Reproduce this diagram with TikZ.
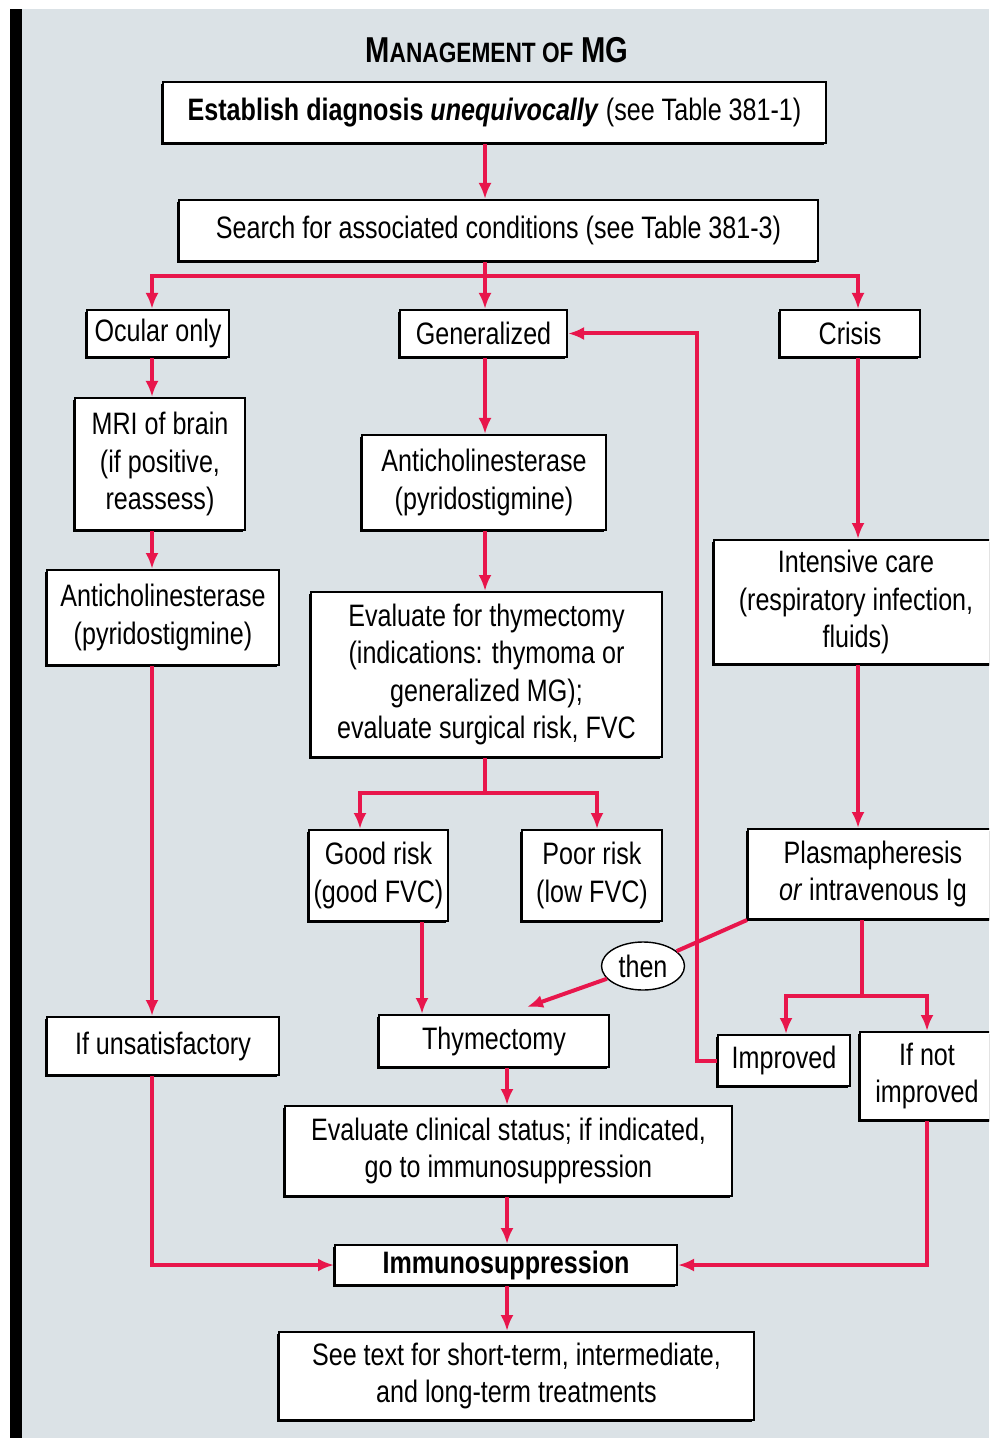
\documentclass[tikz,border=0pt]{standalone}
\usepackage{fontspec}
\setmainfont{Liberation Sans}[FakeStretch=0.81]
\usetikzlibrary{shapes.geometric, arrows.meta, shadows}
\definecolor{mgred}{RGB}{232,22,76}
\definecolor{mgback}{RGB}{219,226,230}
\tikzstyle{box} = [rectangle, draw=black, line width=1pt, fill=white, align=center, inner sep=2pt, drop shadow={shadow xshift=-0.8pt, shadow yshift=-0.8pt, fill=black, opacity=1}]
\tikzstyle{oval} = [ellipse, draw=black, line width=0.7pt, fill=white, inner sep=0pt]
\tikzstyle{link} = [draw=mgred, line width=2pt]

\begin{document}
\begin{tikzpicture}[x=0.5pt, y=-0.5pt, >={Latex[length=8pt,width=6.5pt]}, font=\fontsize{15.5}{18.6}\selectfont]
    % frame
    \clip (0,0) rectangle (989,1438);
    \fill[white] (0,0) rectangle (989,1438);
    \fill[black] (10,9) rectangle (22,1438);
    \fill[mgback] (22,9) rectangle (989,1438);

    \node at (497,50) (title) {\bfseries\fontsize{18}{21}\selectfont M{\fontsize{14}{17}\selectfont ANAGEMENT OF} MG};

    % column guides
    \coordinate (lcol) at (152,0);
    \coordinate (ccol) at (485,0);
    \coordinate (bcol) at (507,0);
    \coordinate (rcol) at (858,0);
    \coordinate (gcol) at (360,0);
    \coordinate (pcol) at (597,0);
    \coordinate (tcol) at (422,0);

    \node at (494.5,112.5) [box, minimum width=331.5pt, minimum height=30.5pt] (estab) {\textbf{Establish diagnosis \textit{unequivocally}} (see Table 381-1)};
    \node at (498.5,230.5) [box, minimum width=319.5pt, minimum height=30.5pt] (search) {Search for associated conditions (see Table 381-3)};

    \node at (158,333.5) [box, minimum width=71pt, minimum height=23.5pt] (ocular) {Ocular only};
    \node at (483.5,333.5) [box, minimum width=83.5pt, minimum height=23.5pt] (general) {Generalized};
    \node at (850,333.5) [box, minimum width=70pt, minimum height=23.5pt] (crisis) {Crisis};

    \node at (160,464) [box, minimum width=85pt, minimum height=66pt] (mri) {MRI of brain\\(if positive,\\reassess)};
    \node at (163,617.5) [box, minimum width=116pt, minimum height=47.5pt] (antiL) {Anticholinesterase\\(pyridostigmine)};
    \node at (163,1046) [box, minimum width=116pt, minimum height=29pt] (unsat) {If unsatisfactory};

    \node at (484,482.5) [box, minimum width=122pt, minimum height=47.5pt] (antiC) {Anticholinesterase\\(pyridostigmine)};
    \node at (486.5,674.5) [box, minimum width=175.5pt, minimum height=82.5pt] (evalthy) {Evaluate for thymectomy\\(indications: thymoma or\\generalized MG);\\evaluate surgical risk, FVC};
    \node at (378.5,875.5) [box, minimum width=69.5pt, minimum height=45.5pt] (good) {Good risk\\(good FVC)};
    \node at (592,875.5) [box, minimum width=70pt, minimum height=45.5pt] (poor) {Poor risk\\(low FVC)};
    \node at (494,1041) [box, minimum width=115pt, minimum height=26pt] (thymec) {Thymectomy};
    \node at (508.5,1151) [box, minimum width=223.5pt, minimum height=45pt] (evalclin) {Evaluate clinical status; if indicated,\\go to immunosuppression};
    \node at (506,1265) [box, minimum width=171pt, minimum height=20pt] (immuno) {\textbf{Immunosuppression}};
    \node at (516.5,1376) [box, minimum width=237.5pt, minimum height=44pt] (seetext) {See text for short-term, intermediate,\\and long-term treatments};

    \node at (856,602) [box, minimum width=142pt, minimum height=62pt] (intens) {Intensive care\\(respiratory infection,\\fluids)};
    \node at (873,874) [box, minimum width=125pt, minimum height=45pt] (plasm) {Plasmapheresis\\\textit{or} intravenous Ig};
    \node at (784,1060.5) [box, minimum width=66pt, minimum height=25.5pt] (improved) {Improved};
    \node at (927,1076) [box, minimum width=67pt, minimum height=44pt] (ifnot) {If not\\improved};
    \node at (643,966) [oval, minimum width=41.5pt, minimum height=24pt] (then) {then};

    \coordinate (split1) at (485,276);
    \coordinate (split2) at (485,793);
    \coordinate (split3) at (862,996);
    \coordinate (thyin) at (527,1007);

    % top
    \draw[link,->] (estab.south -| ccol) -- (search.north -| ccol);
    \draw[link] (search.south -| ccol) -- (split1);
    \draw[link,->] (split1) -| (ocular.north -| lcol);
    \draw[link,->] (split1) -- (general.north -| ccol);
    \draw[link,->] (split1) -| (crisis.north -| rcol);

    % ocular
    \draw[link,->] (ocular.south -| lcol) -- (mri.north -| lcol);
    \draw[link,->] (mri.south -| lcol) -- (antiL.north -| lcol);
    \draw[link,->] (antiL.south -| lcol) -- (unsat.north -| lcol);
    \draw[link,->] (unsat.south -| lcol) |- (immuno.west);

    % generalized
    \draw[link,->] (general.south -| ccol) -- (antiC.north -| ccol);
    \draw[link,->] (antiC.south -| ccol) -- (evalthy.north -| ccol);
    \draw[link] (evalthy.south -| ccol) -- (split2);
    \draw[link,->] (split2) -| (good.north -| gcol);
    \draw[link,->] (split2) -| (poor.north -| pcol);
    \draw[link,->] (good.south -| tcol) -- (thymec.north -| tcol);
    \draw[link,->] (thymec.south -| bcol) -- (evalclin.north -| bcol);
    \draw[link,->] (evalclin.south -| bcol) -- (immuno.north -| bcol);
    \draw[link,->] (immuno.south -| bcol) -- (seetext.north -| bcol);

    % crisis
    \draw[link,->] (crisis.south -| rcol) -- (intens.north -| rcol);
    \draw[link,->] (intens.south -| rcol) -- (plasm.north -| rcol);
    \draw[link,->] (improved.west) -- ++(-20,0) |- (general.east);
    \draw[link] (plasm.south west) -- (then);
    \draw[link,->] (then) -- (thyin);
    \draw[link] (plasm.south -| split3) -- (split3);
    \draw[link,->] (split3) -| (improved.north -| 786,0);
    \draw[link,->] (split3) -| (ifnot.north);
    \draw[link,->] (ifnot.south) |- (immuno.east);
\end{tikzpicture}
\end{document}
